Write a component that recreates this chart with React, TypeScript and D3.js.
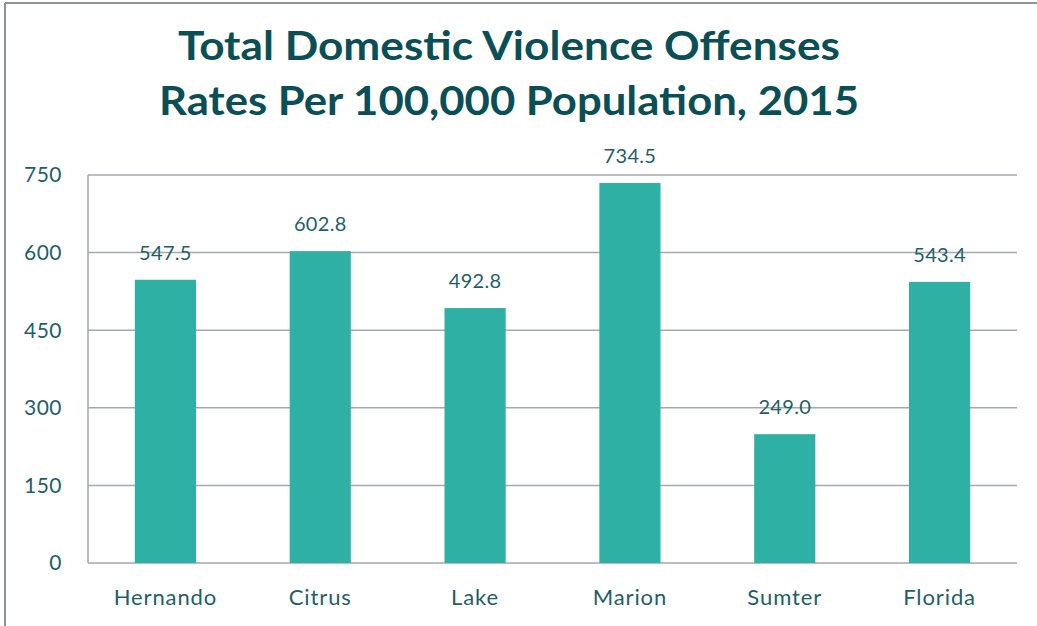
import React from "react";
import * as d3 from "d3";

const categories = ["Hernando", "Citrus", "Lake", "Marion", "Sumter", "Florida"];
const values = [547.5, 602.8, 492.8, 734.5, 249.0, 543.4];
const yTicks = [0, 150, 300, 450, 600, 750];
const titleLines = ["Total Domestic Violence Offenses", "Rates Per 100,000 Population, 2015"];

const W = 1037;
const H = 626;
const plot = { left: 88, right: 1017, top: 175, bottom: 563 };
const font = "Lato, 'Open Sans', sans-serif";

export default function App() {
  const x = d3.scaleBand<string>().domain(categories).range([plot.left, plot.right]).paddingInner(0.605).paddingOuter(0.3025);
  const y = d3.scaleLinear().domain([0, 750]).range([plot.bottom, plot.top]);
  return (
    <svg width={W} height={H} style={{ position: "absolute", left: 0, top: 0, background: "#fff" }}>
      <rect x={0} y={0} width={W} height={H} fill="#fff" />
      <line x1={5} y1={3} x2={W} y2={3} stroke="#8E9599" strokeWidth={2} />
      <line x1={5} y1={3} x2={5} y2={H} stroke="#8E9599" strokeWidth={2} />
      {titleLines.map((t, i) => (
        <text key={i} x={509} y={60 + i * 55} textAnchor="middle" fill="#0B4F56"
          fontFamily={font} fontWeight={700} fontSize={40}
          textLength={i === 0 ? 662 : 700} lengthAdjust="spacingAndGlyphs">{t}</text>
      ))}
      {yTicks.map((t) => (
        <g key={t}>
          <line x1={plot.left} x2={plot.right} y1={y(t)} y2={y(t)} stroke="#A3A9AC" strokeWidth={1.5} />
          <text x={62} y={y(t)} dy="0.35em" textAnchor="end" fill="#1E5F67" fontFamily={font} fontSize={21} letterSpacing={0.5}>{t}</text>
        </g>
      ))}
      <line x1={plot.left} x2={plot.left} y1={plot.top} y2={plot.bottom} stroke="#A3A9AC" strokeWidth={1.5} />
      {categories.map((c, i) => (
        <g key={c}>
          <rect x={x(c)} y={y(values[i])} width={x.bandwidth()} height={plot.bottom - y(values[i])} fill="#2EB0A4" />
          <text x={(x(c) as number) + x.bandwidth() / 2} y={y(values[i]) - 20} textAnchor="middle" fill="#1E5F67" fontFamily={font} fontSize={20} letterSpacing={0.3}>{values[i].toFixed(1)}</text>
          <text x={(x(c) as number) + x.bandwidth() / 2} y={605} textAnchor="middle" fill="#1E5F67" fontFamily={font} fontSize={22} letterSpacing={0.9}>{c}</text>
        </g>
      ))}
    </svg>
  );
}
